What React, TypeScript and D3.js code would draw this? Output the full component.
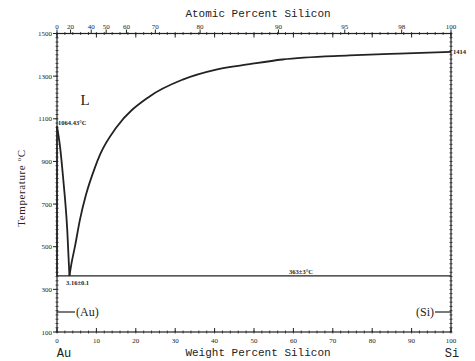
import React from "react";
import * as d3 from "d3";

// liquidus, Au side (wt% Si, deg C)
const liquidusAu: [number, number][] = [
  [0, 1064.43], [0.76, 971], [1.6, 814], [2.6, 579], [3.16, 363],
];
// liquidus, Si side
const liquidusSi: [number, number][] = [
  [3.16, 363], [3.7, 424], [4.6, 505], [5.8, 625], [7.3, 740], [9.6, 870],
  [11, 935], [15.1, 1060], [23.5, 1205], [31.9, 1284], [40.4, 1331],
  [48.9, 1356], [57.2, 1378], [74.2, 1397], [86.8, 1406], [100, 1414],
];
const eutecticT = 363;
const tempTicks = [100, 300, 500, 700, 900, 1100, 1300, 1500];
const wtTicks = [0, 10, 20, 30, 40, 50, 60, 70, 80, 90, 100];
const atTicks = [0, 20, 40, 50, 60, 70, 80, 90, 95, 98, 100];

// atomic % Si -> weight % Si
const atToWt = (a: number) => (a * 28.0855) / (a * 28.0855 + (100 - a) * 196.967) * 100;

const W = 475, H = 361;
const left = 57, right = 451, top = 33.5, bottom = 332;

export default function App() {
  const x = d3.scaleLinear().domain([0, 100]).range([left, right]);
  const y = d3.scaleLinear().domain([100, 1500]).range([bottom, top]);
  const line = d3.line<[number, number]>()
    .x(d => x(d[0]))
    .y(d => y(d[1]))
    .curve(d3.curveMonotoneX);

  const minorT = d3.range(100, 1501, 20);
  const minorW = d3.range(0, 101, 2);
  const tickFont = { fontFamily: "Liberation Serif", fontSize: 7 };
  const mono = { fontFamily: "Liberation Mono", fontSize: 11 };

  return (
    <svg width={W} height={H} style={{ position: "absolute", left: 0, top: 0, background: "#fff" }}>
      <g stroke="#222" fill="none">
        {/* frame */}
        <rect x={left} y={top} width={right - left} height={bottom - top} strokeWidth={1.2} />
        {/* minor ticks, temperature axes */}
        {minorT.map(t => (
          <g key={"mt" + t} strokeWidth={0.8}>
            <line x1={left - 1.5} x2={left + 1.5} y1={y(t)} y2={y(t)} />
            <line x1={right - 1.5} x2={right + 1.5} y1={y(t)} y2={y(t)} />
          </g>
        ))}
        {tempTicks.map(t => (
          <line key={"tt" + t} x1={left - 4} x2={left} y1={y(t)} y2={y(t)} strokeWidth={1} />
        ))}
        {/* minor ticks, composition axes */}
        {minorW.map(w => (
          <g key={"mw" + w} strokeWidth={0.8}>
            <line x1={x(w)} x2={x(w)} y1={bottom - 1.5} y2={bottom + 1.5} />
            <line x1={x(w)} x2={x(w)} y1={top - 1.5} y2={top + 1.5} />
          </g>
        ))}
        {wtTicks.map(w => (
          <g key={"wt" + w} strokeWidth={1}>
            <line x1={x(w)} x2={x(w)} y1={bottom - 4} y2={bottom} />
            <line x1={x(w)} x2={x(w)} y1={top} y2={top + 4} />
          </g>
        ))}
        {atTicks.map(a => (
          <line key={"at" + a} x1={x(atToWt(a))} x2={x(atToWt(a))} y1={top - 4} y2={top} strokeWidth={1} />
        ))}

        {/* phase boundaries */}
        <path d={line(liquidusAu) || ""} strokeWidth={1.8} />
        <path d={line(liquidusSi) || ""} strokeWidth={1.8} />
        <line x1={x(0)} x2={x(100)} y1={y(eutecticT)} y2={y(eutecticT)} strokeWidth={1.4} />
        <line x1={x(0)} x2={x(0)} y1={y(1064.43)} y2={y(eutecticT)} strokeWidth={1.6} />

        {/* solid solution markers */}
        <line x1={x(0)} x2={x(0) + 18} y1={312} y2={312} strokeWidth={1.2} />
        <line x1={x(100) - 16} x2={x(100)} y1={312} y2={312} strokeWidth={1.2} />
      </g>

      <g fill="#222">
        {tempTicks.map(t => (
          <text key={"tl" + t} x={left - 5} y={y(t) + 2.5} textAnchor="end" {...tickFont}>{t}</text>
        ))}
        {wtTicks.map(w => (
          <text key={"wl" + w} x={x(w)} y={bottom + 11} textAnchor="middle" {...tickFont}>{w}</text>
        ))}
        {atTicks.map(a => (
          <text key={"al" + a} x={x(atToWt(a))} y={top - 5} textAnchor="middle" {...tickFont}>{a}</text>
        ))}

        <text x={258} y={17} textAnchor="middle" {...mono}>Atomic Percent Silicon</text>
        <text x={258} y={356} textAnchor="middle" {...mono}>Weight Percent Silicon</text>
        <text x={64} y={357} textAnchor="middle" {...mono} fontSize={12}>Au</text>
        <text x={452} y={357} textAnchor="middle" {...mono} fontSize={12}>Si</text>

        <text transform="translate(25,188) rotate(-90)" textAnchor="middle"
          fontFamily="Liberation Serif" fontSize={11} letterSpacing={0.6}>
          Temperature <tspan fontSize={7} dy={-4}>o</tspan><tspan dy={4}>C</tspan>
        </text>

        <text x={85} y={105} textAnchor="middle" fontFamily="Liberation Serif" fontSize={15}>L</text>
        <text x={58} y={125} fontFamily="Liberation Serif" fontSize={6.5} fontWeight="bold">1064.43°C</text>
        <text x={66} y={285} fontFamily="Liberation Serif" fontSize={6.5} fontWeight="bold">3.16±0.1</text>
        <text x={301} y={274} textAnchor="middle" fontFamily="Liberation Serif" fontSize={6.5} fontWeight="bold">363±3°C</text>
        <text x={right + 2} y={y(1414) + 2.5} fontFamily="Liberation Serif" fontSize={6.5} fontWeight="bold">1414</text>
        <text x={76} y={316} fontFamily="Liberation Serif" fontSize={12}>(Au)</text>
        <text x={x(100) - 17} y={316} textAnchor="end" fontFamily="Liberation Serif" fontSize={12}>(Si)</text>
      </g>
    </svg>
  );
}
